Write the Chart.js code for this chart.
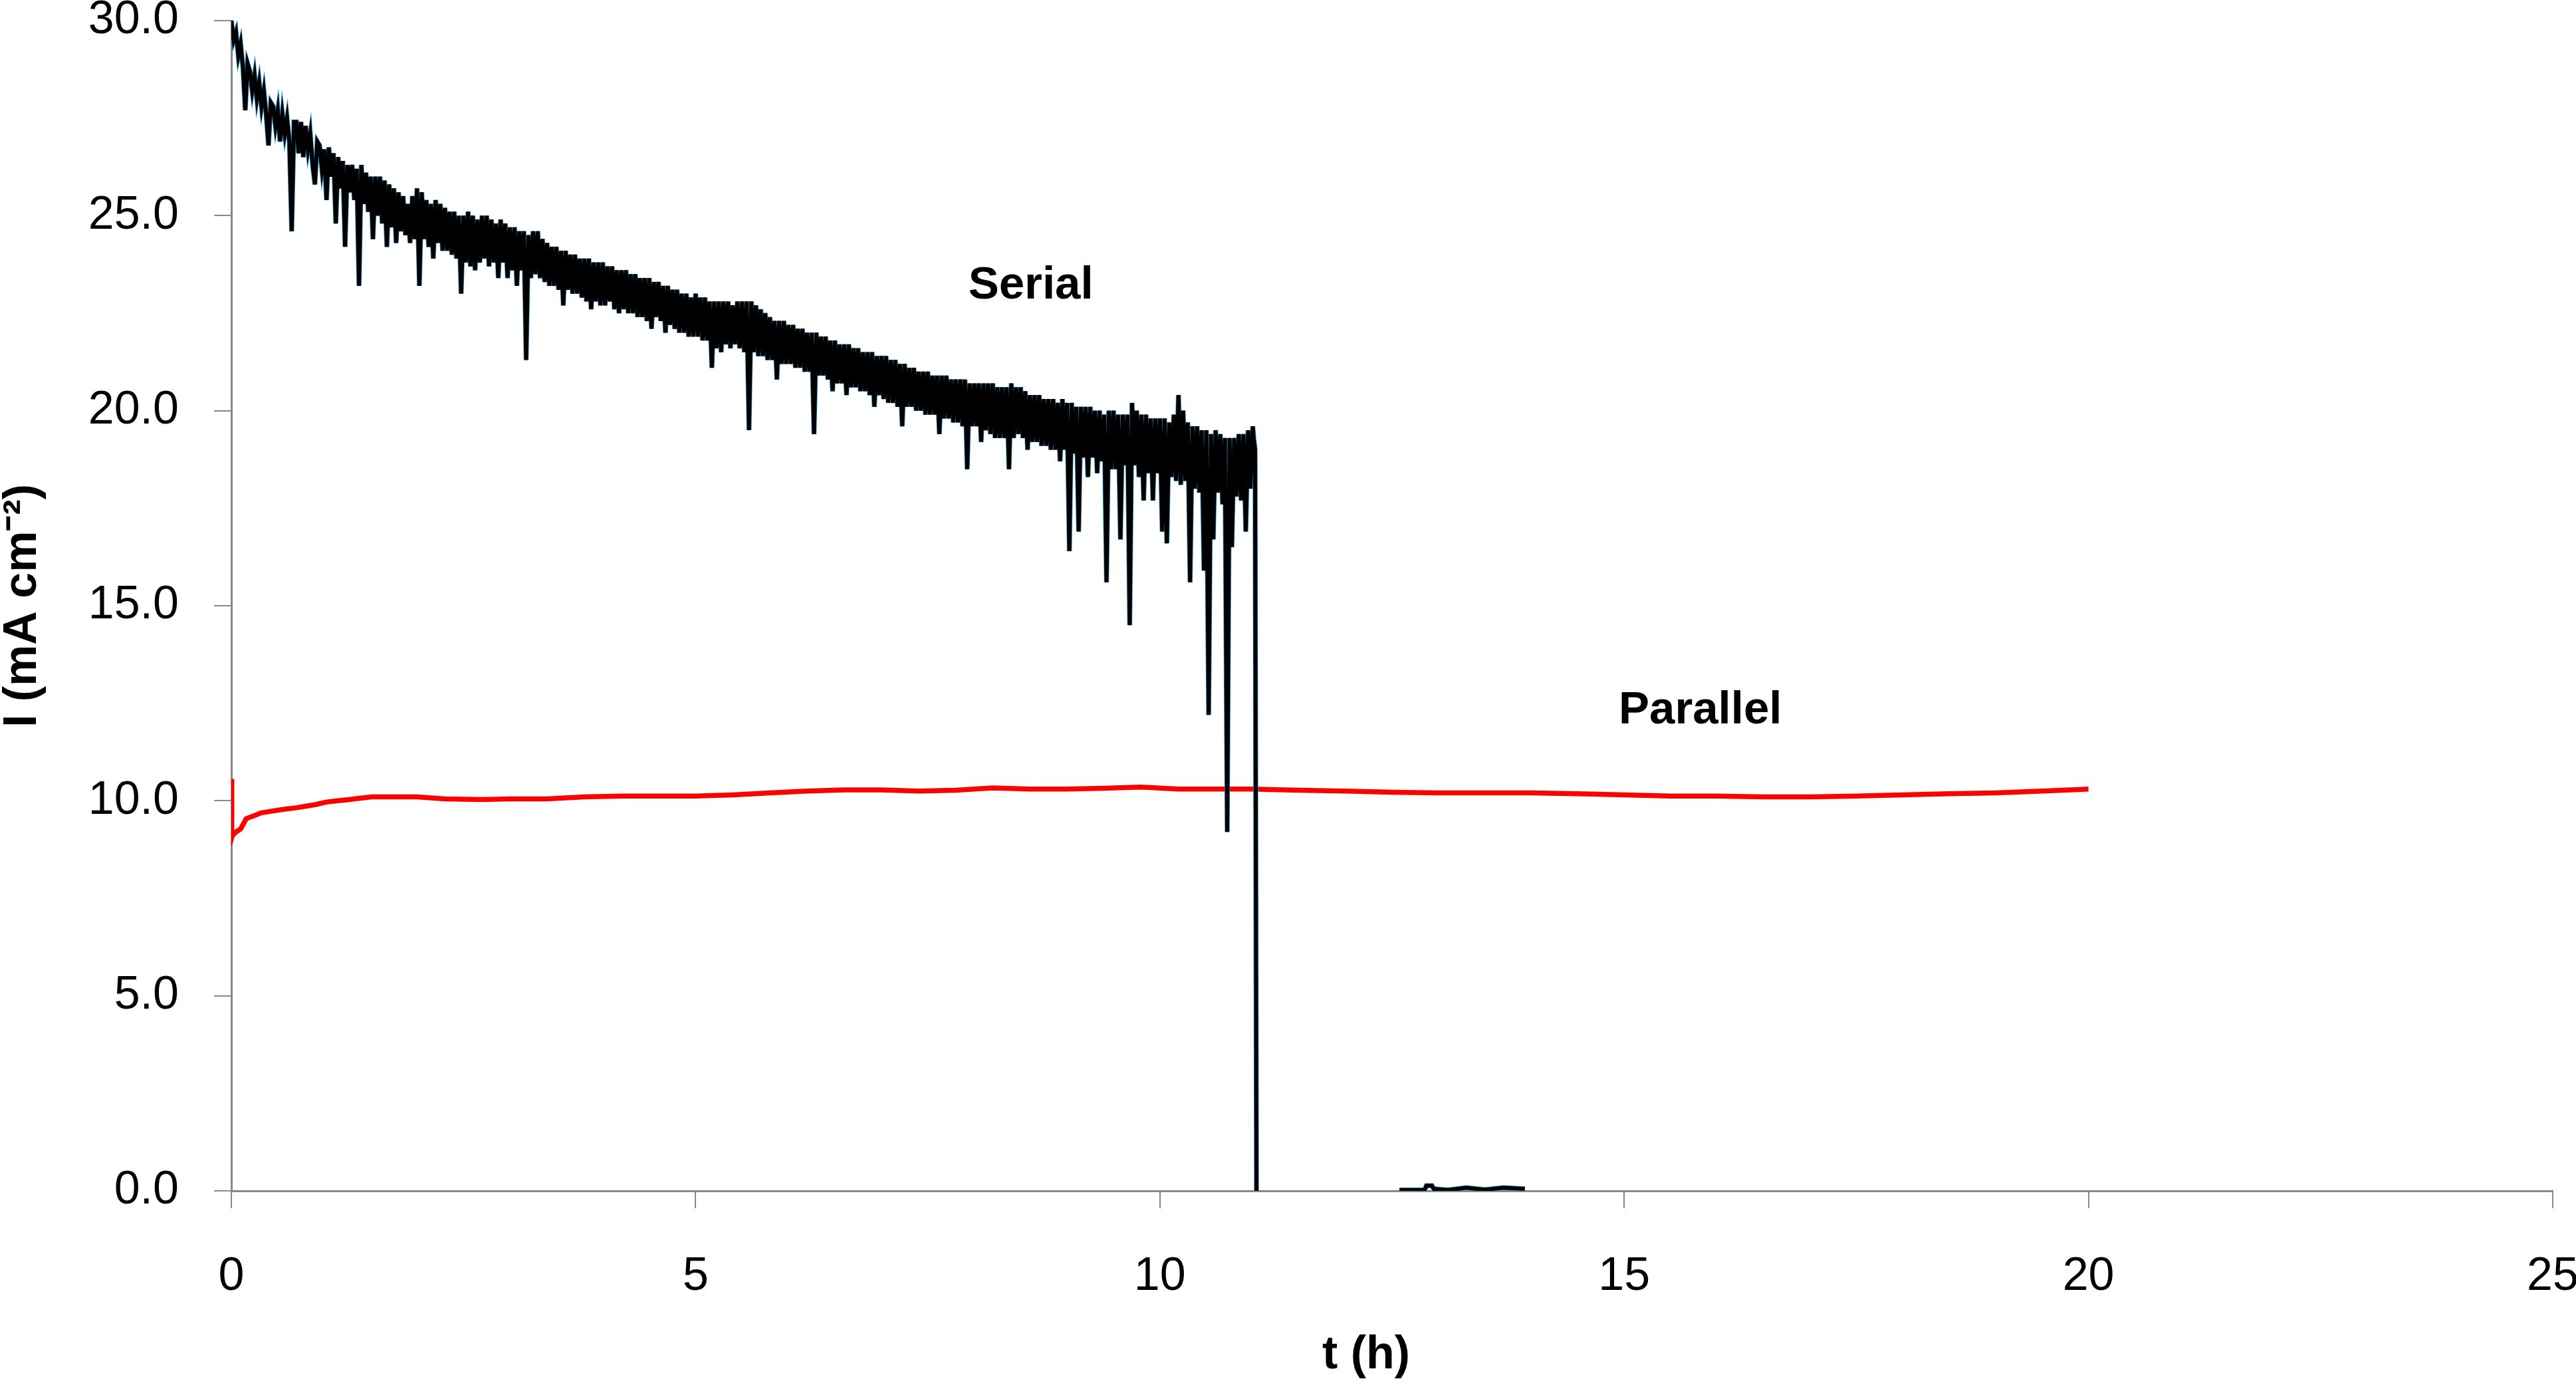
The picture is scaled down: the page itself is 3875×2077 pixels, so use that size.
<!DOCTYPE html>
<html><head><meta charset="utf-8">
<script src="https://cdn.jsdelivr.net/npm/chart.js@4/dist/chart.umd.min.js"></script>
<style>html,body{margin:0;padding:0;background:#fff}#wrap{width:3875px;height:2077px;position:relative}</style>
</head><body><div id="wrap"><canvas id="c"></canvas></div>
<script>
// ---- data ----
const serialT = [
 0.000,0.025,0.050,0.075,0.100,0.125,0.150,0.175,0.200,0.225,0.250,0.275,0.300,0.325,0.350,0.375,0.400,0.425,0.450,0.475,
 0.500,0.525,0.550,0.575,0.600,0.625,0.650,0.675,0.700,0.725,0.750,0.775,0.800,0.825,0.850,0.875,0.900,0.925,0.950,0.975,
 1.000,1.025,1.050,1.075,1.100,1.125,1.150,1.175,1.200,1.225,1.250,1.275,1.300,1.325,1.350,1.375,1.400,1.425,1.450,1.475,
 1.500,1.525,1.550,1.575,1.600,1.625,1.650,1.675,1.700,1.725,1.750,1.775,1.800,1.825,1.850,1.875,1.900,1.925,1.950,1.975,
 2.000,2.025,2.050,2.075,2.100,2.125,2.150,2.175,2.200,2.225,2.250,2.275,2.300,2.325,2.350,2.375,2.400,2.425,2.450,2.475,
 2.500,2.525,2.550,2.575,2.600,2.625,2.650,2.675,2.700,2.725,2.750,2.775,2.800,2.825,2.850,2.875,2.900,2.925,2.950,2.975,
 3.000,3.025,3.050,3.075,3.100,3.125,3.150,3.175,3.200,3.225,3.250,3.275,3.300,3.325,3.350,3.375,3.400,3.425,3.450,3.475,
 3.500,3.525,3.550,3.575,3.600,3.625,3.650,3.675,3.700,3.725,3.750,3.775,3.800,3.825,3.850,3.875,3.900,3.925,3.950,3.975,
 4.000,4.025,4.050,4.075,4.100,4.125,4.150,4.175,4.200,4.225,4.250,4.275,4.300,4.325,4.350,4.375,4.400,4.425,4.450,4.475,
 4.500,4.525,4.550,4.575,4.600,4.625,4.650,4.675,4.700,4.725,4.750,4.775,4.800,4.825,4.850,4.875,4.900,4.925,4.950,4.975,
 5.000,5.025,5.050,5.075,5.100,5.125,5.150,5.175,5.200,5.225,5.250,5.275,5.300,5.325,5.350,5.375,5.400,5.425,5.450,5.475,
 5.500,5.525,5.550,5.575,5.600,5.625,5.650,5.675,5.700,5.725,5.750,5.775,5.800,5.825,5.850,5.875,5.900,5.925,5.950,5.975,
 6.000,6.025,6.050,6.075,6.100,6.125,6.150,6.175,6.200,6.225,6.250,6.275,6.300,6.325,6.350,6.375,6.400,6.425,6.450,6.475,
 6.500,6.525,6.550,6.575,6.600,6.625,6.650,6.675,6.700,6.725,6.750,6.775,6.800,6.825,6.850,6.875,6.900,6.925,6.950,6.975,
 7.000,7.025,7.050,7.075,7.100,7.125,7.150,7.175,7.200,7.225,7.250,7.275,7.300,7.325,7.350,7.375,7.400,7.425,7.450,7.475,
 7.500,7.525,7.550,7.575,7.600,7.625,7.650,7.675,7.700,7.725,7.750,7.775,7.800,7.825,7.850,7.875,7.900,7.925,7.950,7.975,
 8.000,8.025,8.050,8.075,8.100,8.125,8.150,8.175,8.200,8.225,8.250,8.275,8.300,8.325,8.350,8.375,8.400,8.425,8.450,8.475,
 8.500,8.525,8.550,8.575,8.600,8.625,8.650,8.675,8.700,8.725,8.750,8.775,8.800,8.825,8.850,8.875,8.900,8.925,8.950,8.975,
 9.000,9.025,9.050,9.075,9.100,9.125,9.150,9.175,9.200,9.225,9.250,9.275,9.300,9.325,9.350,9.375,9.400,9.425,9.450,9.475,
 9.500,9.525,9.550,9.575,9.600,9.625,9.650,9.675,9.700,9.725,9.750,9.775,9.800,9.825,9.850,9.875,9.900,9.925,9.950,9.975,
 10.000,10.025,10.050,10.075,10.100,10.125,10.150,10.175,10.200,10.225,10.250,10.275,10.300,10.325,10.350,10.375,10.400,10.425,10.450,10.475,
 10.500,10.525,10.550,10.575,10.600,10.625,10.650,10.675,10.700,10.725,10.750,10.775,10.800,10.825,10.850,10.875,10.900,10.925,10.950,10.975,
 11.000,11.010,11.025,11.040,
 11.200,
 12.58,12.85,12.87,12.93,12.95,13.10,13.30,13.50,13.70,13.93
];
const serialI = [
 30.0,29.5,29.7,29.1,29.4,28.8,27.7,28.9,28.7,28.2,28.6,28.0,28.4,27.8,28.2,27.6,26.8,27.9,27.8,27.3,
 27.7,26.9,27.6,27.1,27.5,26.9,24.6,27.4,27.4,26.6,27.4,26.5,27.3,26.7,27.1,26.3,25.8,26.9,26.8,26.2,
 26.7,25.4,26.75,26.0,26.6,24.8,26.5,25.7,26.4,24.2,26.3,25.6,26.3,25.4,26.2,23.2,26.3,25.3,26.1,25.1,
 26.0,24.4,26.0,25.0,26.0,24.8,25.9,24.2,25.8,24.7,25.7,24.3,25.6,24.6,25.5,24.5,25.3,24.3,25.5,24.4,
 25.7,23.2,25.6,24.4,25.4,24.2,25.3,23.9,25.4,24.3,25.3,24.1,25.2,24.1,25.1,24.0,25.1,23.9,25.0,23.0,
 25.0,23.8,25.1,23.7,25.0,23.6,24.9,23.8,25.0,23.9,25.0,23.7,24.9,23.8,24.8,23.4,24.9,23.8,24.8,23.4,
 24.7,23.6,24.7,23.2,24.6,23.6,24.6,21.3,24.5,23.4,24.6,23.5,24.6,23.4,24.4,23.3,24.3,23.2,24.2,23.2,
 24.2,23.1,24.1,22.7,24.1,23.1,24.0,23.0,24.0,23.0,23.9,22.9,23.9,22.8,23.9,22.6,23.8,22.8,23.8,22.7,
 23.8,22.7,23.7,22.8,23.7,22.6,23.6,22.5,23.6,22.6,23.6,22.5,23.5,22.5,23.5,22.4,23.4,22.4,23.4,22.3,
 23.4,22.1,23.3,22.4,23.3,22.3,23.2,22.0,23.2,22.2,23.1,22.1,23.1,22.0,23.0,22.0,23.0,21.9,22.9,21.9,
 23.0,21.9,22.9,21.8,22.9,21.8,22.8,21.1,22.8,21.6,22.8,21.5,22.8,21.7,22.8,21.6,22.7,21.7,22.8,21.6,
 22.8,21.5,22.8,19.5,22.8,21.5,22.7,21.4,22.6,21.4,22.5,21.3,22.4,21.3,22.3,20.8,22.3,21.2,22.3,21.2,
 22.2,21.2,22.2,21.1,22.1,21.1,22.1,21.0,22.0,21.0,22.0,19.4,22.0,20.9,21.9,20.9,21.9,20.8,21.8,20.5,
 21.8,20.7,21.7,20.7,21.7,20.4,21.7,20.6,21.6,20.6,21.6,20.5,21.5,20.5,21.5,20.4,21.5,20.1,21.4,20.4,
 21.4,20.3,21.4,20.2,21.3,20.2,21.3,20.1,21.2,19.6,21.2,20.1,21.1,20.1,21.1,20.0,21.0,20.0,21.0,19.9,
 21.0,19.9,20.9,19.9,20.9,19.4,20.9,19.8,20.9,19.8,20.8,19.7,20.8,19.7,20.8,19.6,20.8,18.5,20.7,19.6,
 20.7,19.6,20.7,19.2,20.7,19.5,20.7,19.4,20.7,19.3,20.6,19.3,20.6,19.3,20.6,18.5,20.7,19.3,20.6,19.4,
 20.6,19.3,20.5,19.0,20.4,19.2,20.4,19.2,20.4,19.1,20.3,19.1,20.3,19.0,20.3,19.0,20.2,18.7,20.3,19.0,
 20.2,16.4,20.2,18.9,20.1,16.9,20.1,18.8,20.1,18.3,20.1,18.8,20.0,18.4,20.0,18.7,19.9,15.6,20.0,18.5,
 20.0,18.5,19.9,16.7,19.9,18.6,19.9,14.5,20.2,18.6,20.0,18.3,19.9,17.7,19.9,18.4,19.8,17.7,19.8,18.4,
 19.8,16.9,19.8,16.6,19.7,18.3,19.9,18.2,20.4,18.1,20.0,18.2,19.7,15.6,19.6,18.0,19.6,17.9,19.5,15.9,
 19.5,12.2,19.4,16.7,19.5,17.9,19.4,17.6,19.3,9.2,19.3,16.5,19.3,17.8,19.4,17.7,19.4,16.9,19.5,18.0,
 19.6,19.3,19.0,0.0,
 null,
 0.02,0.02,0.13,0.13,0.05,0.02,0.08,0.03,0.08,0.05
];
const parallelT = [0,0.005,0.01,0.05,0.1,0.16,0.25,0.32,0.45,0.56,0.7,0.8,0.9,1.03,1.15,1.27,1.4,1.51,1.75,2.0,
 2.3,2.7,3.0,3.4,3.8,4.2,4.6,5.0,5.4,5.8,6.2,6.6,7.0,7.4,7.8,8.2,8.6,9.0,9.4,9.8,
 10.2,10.6,11.0,11.5,12.0,12.5,13.0,13.5,14.0,14.5,15.0,15.5,16.0,16.5,17.0,17.5,18.0,18.5,19.0,19.5,19.8,20.0];
const parallelI = [10.56,9.06,9.1,9.2,9.28,9.54,9.62,9.69,9.74,9.78,9.82,9.86,9.9,9.97,10.0,10.03,10.07,10.1,10.1,10.1,
 10.05,10.03,10.05,10.05,10.1,10.12,10.12,10.12,10.15,10.2,10.25,10.28,10.28,10.25,10.27,10.33,10.3,10.3,10.32,10.35,
 10.3,10.3,10.3,10.27,10.25,10.22,10.2,10.2,10.2,10.18,10.15,10.12,10.12,10.1,10.1,10.12,10.15,10.18,10.2,10.25,10.28,10.3];
const xTickValues = [0,5,10,15,20,25];
const yTickValues = [0,5,10,15,20,25,30];
const seriesLabels = ['Serial','Parallel'];
const labelAnchorT = [8.61,15.82];
const labelAnchorI = [23.2,12.3];
const xTitle = 't (h)    ';
const yTitle = 'I (mA cm\u207B\u00B2)';

// ---- chart ----
const FONT = '"Liberation Sans", Arial, sans-serif';
const AXIS = '#888888';
const pts = (xs, ys) => xs.map((x, k) => ({x: x, y: ys[k]}));

const labelPlugin = {
  id: 'seriesLabels',
  afterDatasetsDraw(chart) {
    const {ctx, scales} = chart;
    ctx.save();
    ctx.font = 'bold 69px ' + FONT;
    ctx.fillStyle = '#000';
    ctx.textAlign = 'center';
    ctx.textBaseline = 'middle';
    seriesLabels.forEach((s, k) => {
      ctx.fillText(s, scales.x.getPixelForValue(labelAnchorT[k]), scales.y.getPixelForValue(labelAnchorI[k]));
    });
    ctx.restore();
  }
};

new Chart(document.getElementById('c'), {
  type: 'line',
  data: {
    datasets: [
      {label: 'Parallel', data: pts(parallelT, parallelI), borderColor: '#ff0000', borderWidth: 7.5,
       pointRadius: 0, tension: 0, order: 3},
      {label: 'Serial (edge)', data: pts(serialT, serialI), borderColor: '#2a9ad8', borderWidth: 7.5,
       pointRadius: 0, tension: 0, spanGaps: false, order: 2},
      {label: 'Serial', data: pts(serialT, serialI), borderColor: '#000', borderWidth: 6,
       pointRadius: 0, tension: 0, spanGaps: false, order: 1}
    ]
  },
  options: {
    responsive: true, maintainAspectRatio: false, devicePixelRatio: 1, animation: false,
    layout: {padding: {top: 31, right: 35, left: 0, bottom: 0}},
    plugins: {legend: {display: false}, tooltip: {enabled: false}},
    scales: {
      x: {
        type: 'linear', min: 0, max: 25,
        afterBuildTicks: s => { s.ticks = xTickValues.map(v => ({value: v})); },
        afterFit: s => { s.height = 286; s.paddingLeft = 0; s.paddingRight = 0; },
        grid: {display: true, drawOnChartArea: false, drawTicks: true, tickLength: 26, color: AXIS, lineWidth: 2},
        border: {display: true, color: AXIS, width: 3},
        ticks: {color: '#000', font: {family: FONT, size: 70}, padding: 62, maxRotation: 0,
                callback: v => String(v)},
        title: {display: true, text: xTitle, color: '#000', font: {family: FONT, size: 70, weight: 'bold', lineHeight: 1.1},
                padding: {top: 0, bottom: 0}}
      },
      y: {
        type: 'linear', min: 0, max: 30,
        afterBuildTicks: s => { s.ticks = yTickValues.map(v => ({value: v})); },
        afterFit: s => { s.width = 348; s.paddingTop = 0; s.paddingBottom = 0; },
        grid: {display: true, drawOnChartArea: false, drawTicks: true, tickLength: 26, color: AXIS, lineWidth: 2},
        border: {display: true, color: AXIS, width: 3},
        ticks: {color: '#000', font: {family: FONT, size: 70}, padding: 53,
                callback: v => Number(v).toFixed(1)},
        title: {display: true, text: yTitle, color: '#000', font: {family: FONT, size: 70, weight: 'bold', lineHeight: 1.0},
                padding: {top: 0, bottom: 0}}
      }
    }
  },
  plugins: [labelPlugin]
});
</script>
</body></html>
